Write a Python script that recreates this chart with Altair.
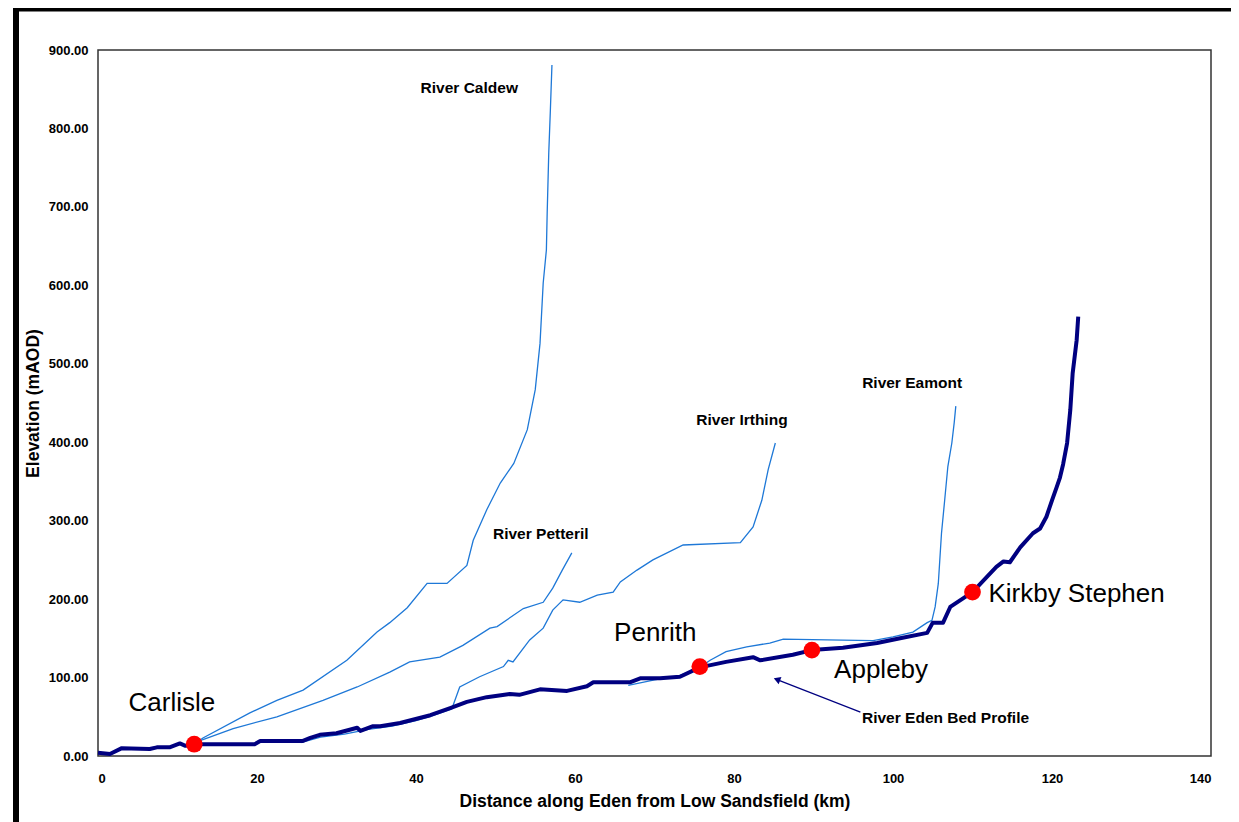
import altair as alt
import pandas as pd

FONT = "Liberation Sans"

# ---- data (km along Eden, elevation mAOD) ----
eden_km = [0, 1.5, 3, 6.5, 7.4, 9, 10.3, 11, 12.1, 19.7, 20.4, 25.7, 26.7, 27.9, 30, 32.6, 33, 34.6,
           35.5, 38, 41.8, 44.3, 46.4, 48.9, 51.8, 53, 55.6, 59, 61.5, 62.3, 66.9, 68.2, 70.7, 73.2,
           75.7, 79, 82.4, 83.3, 87.4, 89.8, 93.7, 98, 100.9, 104.3, 105, 106.3, 107.2, 110, 113,
           113.9, 114.7, 116, 117.6, 118.5, 119.3, 120, 120.6, 121, 121.4, 121.9, 122.3, 122.6,
           123.1, 123.3]
eden_elev = [4, 2.5, 10, 9, 11, 11, 16, 13, 15, 15, 19, 19, 23, 27, 29, 36, 32, 38,
             38, 42, 52, 61, 69, 75, 79, 78, 85, 83, 89, 94, 94, 99, 99, 101,
             113, 120, 126, 122, 129, 135, 138, 144, 150, 157, 170, 170, 190, 209, 241,
             248, 247, 266, 284, 290, 305, 326, 343, 355, 372, 399, 441, 488,
             530, 560]

caldew_km = [12.1, 13.2, 19.1, 22.5, 25.8, 31.3, 35.1, 36.7, 38.9, 41.4, 43.9, 46.4, 47.2, 48.9,
             50.6, 52.3, 54, 55, 55.6, 56, 56.4, 56.5, 56.7, 56.9, 57.1]
caldew_elev = [15, 23, 55, 71, 84, 122, 158, 170, 189, 220, 220, 243, 275, 314,
               348, 373, 416, 467, 526, 603, 645, 692, 769, 823, 881]

petteril_km = [12.1, 13.2, 17, 22.5, 28.3, 32.6, 36.7, 39.2, 43, 45.9, 49.3, 50.2, 53.5, 56, 57.2,
               58.4, 59.6]
petteril_elev = [15, 21, 35, 50, 71, 88, 107, 120, 126, 141, 163, 165, 188, 196, 214, 237, 259]

irthing_km = [25.5, 28, 31, 34, 37, 40, 42, 44.5, 45.5, 48, 51, 51.6, 52.2, 54.3, 56, 57.2, 58.5,
              60.6, 62.8, 64.8, 65.7, 67.8, 69.8, 73.6, 80.8, 82.4, 83.5, 84.3, 85.2]
irthing_elev = [17, 24, 28, 34, 38, 45, 51, 60, 88, 101, 114, 122, 120, 148, 163, 186, 199,
                196, 205, 209, 222, 237, 250, 269, 272, 292, 326, 365, 399]

eamont_km = [66.7, 70, 73, 75.7, 77, 79, 81.6, 84.5, 86.2, 91.7, 97.5, 100, 102.5, 104.3, 104.9,
             105.3, 105.7, 106.1, 106.5, 106.9, 107.4, 107.7, 107.9]
eamont_elev = [90, 97, 102, 113, 122, 133, 139, 144, 149, 148, 147, 152, 158, 170, 173,
               190, 220, 284, 326, 369, 399, 425, 446]

towns = ["Carlisle", "Penrith", "Appleby", "Kirkby Stephen"]
town_km = [12.1, 75.7, 89.8, 110]
town_elev = [15, 114, 135, 209]

y_ticks = [0, 100, 200, 300, 400, 500, 600, 700, 800, 900]
x_ticks = [0, 20, 40, 60, 80, 100, 120, 140]


def frame(name, km, elev):
    return pd.DataFrame({"river": name, "km": km, "elev": elev, "i": range(len(km))})


tribs = pd.concat([
    frame("River Caldew", caldew_km, caldew_elev),
    frame("River Petteril", petteril_km, petteril_elev),
    frame("River Irthing", irthing_km, irthing_elev),
    frame("River Eamont", eamont_km, eamont_elev),
])
eden = frame("River Eden", eden_km, eden_elev)
town_df = pd.DataFrame({"town": towns, "km": town_km, "elev": town_elev})

xs = alt.Scale(domain=[0, 140], nice=False, zero=False)
ys = alt.Scale(domain=[0, 900], nice=False)

x_enc = alt.X("km:Q", scale=xs, axis=alt.Axis(
    values=x_ticks, format="d", title="Distance along Eden from Low Sandsfield (km)",
    labelPadding=16, titlePadding=7))
y_enc = alt.Y("elev:Q", scale=ys, axis=alt.Axis(
    values=y_ticks, format=".2f", title="Elevation (mAOD)",
    labelPadding=10, titlePadding=6))

trib_lines = alt.Chart(tribs).mark_line(color="#1E78D7", strokeWidth=1.3).encode(
    x=x_enc, y=y_enc, detail="river:N", order="i:Q")

eden_line = alt.Chart(eden).mark_line(color="#000080", strokeWidth=4, strokeJoin="round").encode(
    x="km:Q", y="elev:Q", order="i:Q")

dots = alt.Chart(town_df).mark_circle(color="#FF0000", opacity=1, size=280).encode(
    x="km:Q", y="elev:Q")


def river_label(text, km, elev, align="center"):
    return alt.Chart().mark_text(text=text, font=FONT, fontSize=15.5, fontWeight="bold",
                                 color="black", align=align, baseline="middle").encode(
        x=alt.datum(km), y=alt.datum(elev))


def town_label(text, km, elev, align="center"):
    return alt.Chart().mark_text(text=text, font=FONT, fontSize=26, color="black",
                                 align=align, baseline="middle").encode(
        x=alt.datum(km), y=alt.datum(elev))


labels = [
    river_label("River Caldew", 46.7, 852),
    river_label("River Petteril", 55.7, 283),
    river_label("River Irthing", 81, 428),
    river_label("River Eamont", 102.4, 476),
    river_label("River Eden Bed Profile", 96.1, 48, align="left"),
    town_label("Carlisle", 9.3, 67),
    town_label("Penrith", 70.1, 157),
    town_label("Appleby", 98.5, 109),
    town_label("Kirkby Stephen", 112, 206, align="left"),
]

arrow_line = alt.Chart().mark_rule(color="#000080", strokeWidth=1.3).encode(
    x=alt.datum(95.9), y=alt.datum(56), x2=alt.datum(85.5), y2=alt.datum(97))
arrow_head = alt.Chart().mark_point(shape="triangle-up", filled=True, color="#000080",
                                    size=60, angle=291, opacity=1).encode(
    x=alt.datum(85.4), y=alt.datum(97.5))

border_left = alt.Chart().mark_rule(color="black", strokeWidth=6).encode(
    x=alt.value(-82), y=alt.value(-42), y2=alt.value(780))
border_top = alt.Chart().mark_rule(color="black", strokeWidth=4).encode(
    y=alt.value(-40.5), x=alt.value(-85), x2=alt.value(1140))

chart = alt.layer(
    trib_lines, eden_line, dots, *labels, arrow_line, arrow_head, border_left, border_top
).properties(
    width=1113, height=706,
    padding={"left": 90, "top": 42, "right": 20, "bottom": 66},
    autosize=alt.AutoSizeParams(type="none"),
    background="white",
).configure_view(
    stroke="#333333", strokeWidth=1.5
).configure_axis(
    grid=False, ticks=False, domain=False,
    labelFont=FONT, labelFontSize=13, labelFontWeight="bold", labelColor="black",
    titleFont=FONT, titleFontSize=17.5, titleFontWeight="bold", titleColor="black",
)

chart.save("out.html", embed_options={"renderer": "svg", "actions": False})
